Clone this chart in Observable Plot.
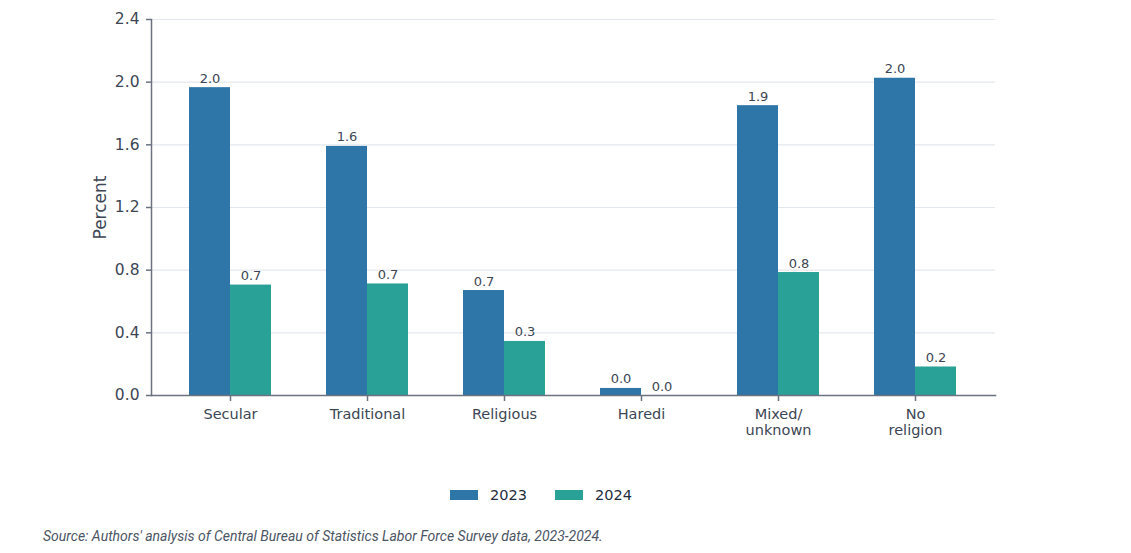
<!DOCTYPE html>
<html>
<head>
<meta charset="utf-8">
<script src="https://cdn.jsdelivr.net/npm/d3@7"></script>
<script src="https://cdn.jsdelivr.net/npm/@observablehq/plot@0.6"></script>
<style>
  body { margin: 0; background: #fff; width: 1131px; height: 553px; overflow: hidden; }
  #chart svg { display: block; }
  #legend { position: relative; height: 40px; font-family: "DejaVu Sans", sans-serif; font-size: 14.5px; color: #1f2d3d; }
  .item { position: absolute; top: 17px; display: flex; align-items: center; }
  .sw { width: 28px; height: 10px; margin-right: 12px; }
  #caption { position: absolute; left: 43px; top: 528px; font-family: Roboto, sans-serif; font-style: italic; font-size: 14px; color: #4b5563; }
</style>
</head>
<body>
<div id="chart"></div>
<div id="legend"></div>
<div id="caption">Source: Authors' analysis of Central Bureau of Statistics Labor Force Survey data, 2023-2024.</div>
<script>
const categories = ["Secular", "Traditional", "Religious", "Haredi", "Mixed/\nunknown", "No\nreligion"];
const years = ["2023", "2024"];
const values2023 = [1.965, 1.59, 0.67, 0.045, 1.85, 2.025];
const values2024 = [0.705, 0.712, 0.345, 0.0, 0.785, 0.182];
const yTicks = [0, 0.4, 0.8, 1.2, 1.6, 2.0, 2.4];
const colors = ["#2e75a8", "#2aa197"];
const yLabel = "Percent";

const data = [];
categories.forEach((c, i) => {
  data.push({category: c, year: "2023", value: values2023[i]});
  data.push({category: c, year: "2024", value: values2024[i]});
});
const d23 = data.filter(d => d.year === "2023");
const d24 = data.filter(d => d.year === "2024");
const yDomain = [yTicks[0], yTicks[yTicks.length - 1]];

const half = 41;
const textColor = "#3d4654";
const axisColor = "#6b7280";

const chart = Plot.plot({
  width: 1131,
  height: 470,
  marginLeft: 151,
  marginRight: 136,
  marginTop: 19,
  marginBottom: 75,
  style: {fontFamily: "DejaVu Sans, sans-serif", color: textColor, background: "#fff"},
  x: {domain: categories, paddingInner: 0.4, paddingOuter: 0.28, label: null},
  y: {domain: yDomain, label: null},
  color: {domain: years, range: colors},
  marks: [
    Plot.gridY(yTicks, {stroke: "#e3e8ee", strokeOpacity: 1, strokeWidth: 1.2}),
    Plot.barY(d23, {x: "category", y: "value", fill: "year", insetRight: half}),
    Plot.barY(d24, {x: "category", y: "value", fill: "year", insetLeft: half}),
    Plot.text(d23, {x: "category", y: "value", text: d => d.value.toFixed(1), dx: -half / 2, dy: -5, lineAnchor: "bottom", fontSize: 13, fill: textColor}),
    Plot.text(d24, {x: "category", y: "value", text: d => d.value.toFixed(1), dx: half / 2, dy: -5, lineAnchor: "bottom", fontSize: 13, fill: textColor}),
    Plot.axisY(yTicks, {tickFormat: d3.format(".1f"), tickSize: 5, tickPadding: 7, fontSize: 15.5, stroke: axisColor, strokeWidth: 1.5, fill: textColor, label: null}),
    Plot.text([yLabel], {frameAnchor: "left", textAnchor: "middle", rotate: -90, dx: -51, fontSize: 17, fill: textColor}),
    Plot.axisX({tickSize: 6, tickPadding: 6, fontSize: 14.5, lineHeight: 1.1, stroke: axisColor, strokeWidth: 1.5, fill: textColor, label: null}),
    Plot.frame({anchor: "left", stroke: axisColor, strokeWidth: 1.5}),
    Plot.frame({anchor: "bottom", stroke: axisColor, strokeWidth: 1.5})
  ]
});
document.getElementById("chart").appendChild(chart);

const legend = document.getElementById("legend");
const lx = [450, 555];
years.forEach((y, i) => {
  const it = document.createElement("div");
  it.className = "item";
  it.style.left = lx[i] + "px";
  it.innerHTML = `<span class="sw" style="background:${colors[i]}"></span><span>${y}</span>`;
  legend.appendChild(it);
});
</script>
</body>
</html>
